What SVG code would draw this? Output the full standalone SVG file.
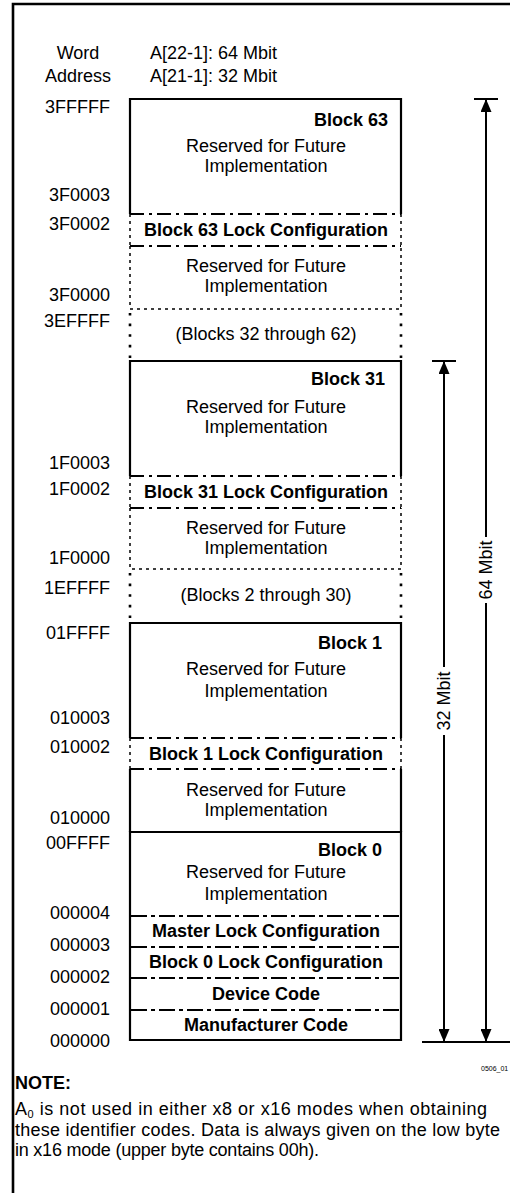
<svg xmlns="http://www.w3.org/2000/svg" width="510" height="1193" viewBox="0 0 510 1193">
<style>
text{font-family:"Liberation Sans",Arial,Helvetica,sans-serif;font-size:18px;fill:#000}
.b{font-weight:bold}
.c{text-anchor:middle}
.e{text-anchor:end}
.solid{stroke:#000;stroke-width:2.2;fill:none}
.dd{stroke:#000;stroke-width:2;stroke-dasharray:14 5 3 5;fill:none}
.fd{stroke:#000;stroke-width:1.5;stroke-dasharray:3 4;fill:none}
.bd{stroke:#000;stroke-width:2.6;stroke-dasharray:2.6 8;fill:none}
.ds{stroke:#000;stroke-width:1.8;stroke-dasharray:16 4 4 4;fill:none}
.shaft{stroke:#000;stroke-width:2;fill:none}
.arr{stroke:#000;stroke-width:2;fill:none;marker-end:url(#ah)}
</style>
<defs>
<marker id="ah" viewBox="0 0 13 11" refX="13" refY="5.5" markerWidth="13" markerHeight="11" markerUnits="userSpaceOnUse" orient="auto">
<path d="M0,0 L13,5.5 L0,11 z" fill="#000"/>
</marker>
</defs>
<rect width="510" height="1193" fill="#fff"/>
<g id="frame">
<path d="M13,1193 V4 H510" stroke="#000" stroke-width="2.6" fill="none"/>
</g>
<g id="header">
<text class="c" x="78" y="59">Word</text>
<text class="c" x="78" y="82">Address</text>
<text x="150" y="59">A[22-1]: 64 Mbit</text>
<text x="150" y="82">A[21-1]: 32 Mbit</text>
</g>
<g id="addresses">
<text class="e" x="110" y="113">3FFFFF</text>
<text class="e" x="110" y="201">3F0003</text>
<text class="e" x="110" y="230">3F0002</text>
<text class="e" x="110" y="301">3F0000</text>
<text class="e" x="110" y="327">3EFFFF</text>
<text class="e" x="110" y="469">1F0003</text>
<text class="e" x="110" y="495">1F0002</text>
<text class="e" x="110" y="564">1F0000</text>
<text class="e" x="110" y="594">1EFFFF</text>
<text class="e" x="110" y="639">01FFFF</text>
<text class="e" x="110" y="724">010003</text>
<text class="e" x="110" y="753">010002</text>
<text class="e" x="110" y="824">010000</text>
<text class="e" x="110" y="849">00FFFF</text>
<text class="e" x="110" y="919">000004</text>
<text class="e" x="110" y="951">000003</text>
<text class="e" x="110" y="983">000002</text>
<text class="e" x="110" y="1015">000001</text>
<text class="e" x="110" y="1047">000000</text>
</g>
<g id="block63">
<path class="solid" d="M130,214 V99 H401 V214"/>
<text class="b e" x="388" y="126">Block 63</text>
<text class="c" x="266" y="152">Reserved for Future</text>
<text class="c" x="266" y="172">Implementation</text>
</g>
<g id="block63-lock">
<path class="dd" d="M130,214 H401 M130,246 H401"/>
<path class="fd" d="M130,214 V246 M401,214 V246"/>
<text class="b c" x="266" y="236">Block 63 Lock Configuration</text>
</g>
<g id="block63-reserved">
<path class="fd" d="M130,246 V309 H401 V246"/>
<text class="c" x="266" y="272">Reserved for Future</text>
<text class="c" x="266" y="292">Implementation</text>
</g>
<g id="blocks32-62">
<path class="bd" d="M130,313 V360 M401,313 V360"/>
<text class="c" x="266" y="340">(Blocks 32 through 62)</text>
</g>
<g id="block31">
<path class="solid" d="M130,476 V361 H401 V476"/>
<text class="b e" x="385" y="385">Block 31</text>
<text class="c" x="266" y="413">Reserved for Future</text>
<text class="c" x="266" y="433">Implementation</text>
</g>
<g id="block31-lock">
<path class="dd" d="M130,476 H401 M130,508 H401"/>
<path class="fd" d="M130,476 V508 M401,476 V508"/>
<text class="b c" x="266" y="498">Block 31 Lock Configuration</text>
</g>
<g id="block31-reserved">
<path class="fd" d="M130,508 V569 H401 V508"/>
<text class="c" x="266" y="534">Reserved for Future</text>
<text class="c" x="266" y="554">Implementation</text>
</g>
<g id="blocks2-30">
<path class="bd" d="M130,573 V621 M401,573 V621"/>
<text class="c" x="266" y="601">(Blocks 2 through 30)</text>
</g>
<g id="block1">
<path class="solid" d="M130,738 V623 H401 V738"/>
<text class="b e" x="382" y="649">Block 1</text>
<text class="c" x="266" y="675">Reserved for Future</text>
<text class="c" x="266" y="697">Implementation</text>
</g>
<g id="block1-lock">
<path class="dd" d="M130,738 H401 M130,769 H401"/>
<path class="fd" d="M130,738 V769 M401,738 V769"/>
<text class="b c" x="266" y="760">Block 1 Lock Configuration</text>
</g>
<g id="block1-reserved">
<path class="solid" d="M130,769 V832 M401,769 V832"/>
<text class="c" x="266" y="796">Reserved for Future</text>
<text class="c" x="266" y="816">Implementation</text>
</g>
<g id="block0">
<path class="solid" d="M130,1040 V832 H401 V1040 Z"/>
<text class="b e" x="382" y="856">Block 0</text>
<text class="c" x="266" y="878">Reserved for Future</text>
<text class="c" x="266" y="900">Implementation</text>
</g>
<g id="master-lock">
<path class="ds" d="M131,916 H400"/>
<text class="b c" x="266" y="937">Master Lock Configuration</text>
</g>
<g id="block0-lock">
<path class="ds" d="M131,947 H400"/>
<text class="b c" x="266" y="968">Block 0 Lock Configuration</text>
</g>
<g id="device-code">
<path class="ds" d="M131,978 H400"/>
<text class="b c" x="266" y="1000">Device Code</text>
</g>
<g id="manufacturer-code">
<path class="ds" d="M131,1010 H400"/>
<text class="b c" x="266" y="1031">Manufacturer Code</text>
</g>
<g id="connectors">
<path class="shaft" d="M474,99 H498 M432,361 H456 M422,1042 H510"/>
<path class="arr" d="M486,537 V99"/>
<path class="arr" d="M486,603 V1042"/>
<path class="arr" d="M444,667 V361"/>
<path class="arr" d="M444,735 V1042"/>
<text class="c" transform="translate(486,570) rotate(-90)" x="0" y="6.4">64 Mbit</text>
<text class="c" transform="translate(444,701) rotate(-90)" x="0" y="6.4">32 Mbit</text>
</g>
<g id="figure-id">
<text x="481" y="1071" style="font-size:7px">0506_01</text>
</g>
<g id="note">
<text class="b" x="15" y="1089">NOTE:</text>
<text x="15" y="1115" textLength="472" lengthAdjust="spacing">A<tspan style="font-size:11px" dy="3">0</tspan><tspan dy="-3"> is not used in either x8 or x16 modes when obtaining</tspan></text>
<text x="15" y="1136" textLength="485" lengthAdjust="spacing">these identifier codes. Data is always given on the low byte</text>
<text x="15" y="1156" textLength="304" lengthAdjust="spacing">in x16 mode (upper byte contains 00h).</text>
</g>
</svg>
